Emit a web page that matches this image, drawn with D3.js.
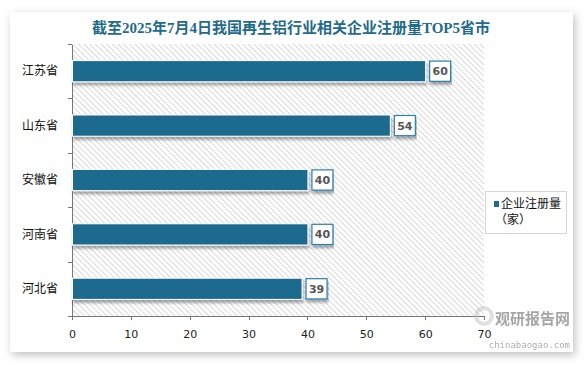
<!DOCTYPE html>
<meta charset="utf-8">
<style>
body { margin: 0; background: #fff; }
svg { display: block; font-family: "Noto Sans CJK SC", "DejaVu Sans", sans-serif; }
.axis text { font-size: 11px; fill: #222; font-family: "DejaVu Sans", "Noto Sans CJK SC", sans-serif; }
.axis path, .axis line { fill: none; stroke: #777; shape-rendering: crispEdges; }
.ylab { font-size: 12px; fill: #111; }
.title { font: bold 15px "Liberation Serif", "Noto Sans CJK SC", serif; fill: #1e6b8c; }
.val { font: bold 11px "DejaVu Sans", sans-serif; fill: #555; }
</style>
<body>
<div id="chart"></div>
<script src="https://cdn.jsdelivr.net/npm/d3@7"></script>
<script>
// provinces, top to bottom
var provinces = ["江苏省", "山东省", "安徽省", "河南省", "河北省"];
var counts = [60, 54, 40, 40, 39];
var xTicks = [0, 10, 20, 30, 40, 50, 60, 70];
var titleText = "截至2025年7月4日我国再生铝行业相关企业注册量TOP5省市";
var legendLines = ["企业注册量", "（家）"];

var W = 584, H = 365;
var margin = {top: 44, left: 72, right: 100, bottom: 49};
var width = 484 - margin.left,
    height = 316 - margin.top;
var barColor = "#1d6b8d";

var svg = d3.select("#chart").append("svg")
  .attr("width", W).attr("height", H);

var defs = svg.append("defs");
var sh = defs.append("filter").attr("id", "cardShadow")
  .attr("x", "-5%").attr("y", "-5%").attr("width", "110%").attr("height", "115%");
sh.append("feDropShadow").attr("dx", 2).attr("dy", 3).attr("stdDeviation", 4)
  .attr("flood-color", "#000").attr("flood-opacity", 0.25);
var bs = defs.append("filter").attr("id", "barShadow")
  .attr("x", "-5%").attr("y", "-20%").attr("width", "110%").attr("height", "160%");
bs.append("feDropShadow").attr("dx", 1).attr("dy", 3).attr("stdDeviation", 1.5)
  .attr("flood-color", "#000").attr("flood-opacity", 0.35);
var pat = defs.append("pattern").attr("id", "hatch")
  .attr("patternUnits", "userSpaceOnUse").attr("width", 4).attr("height", 4)
  .attr("patternTransform", "rotate(-45)");
pat.append("rect").attr("width", 4).attr("height", 4).attr("fill", "#fff");
pat.append("line").attr("x1", 0).attr("y1", 0).attr("x2", 0).attr("y2", 4)
  .attr("stroke", "#c9c9c9").attr("stroke-width", 1.4);

// card
svg.append("rect").attr("x", 10).attr("y", 12).attr("width", 563).attr("height", 340)
  .attr("fill", "#fff").attr("filter", "url(#cardShadow)");

svg.append("text").attr("class", "title")
  .attr("x", 291).attr("y", 33).attr("text-anchor", "middle")
  .text(titleText);

var g = svg.append("g").attr("transform", "translate(" + margin.left + "," + margin.top + ")");

var x = d3.scaleLinear().domain([0, 70]).range([0, width]);
var y = d3.scaleBand().domain(provinces).range([0, height])
  .paddingInner(0.61).paddingOuter(0.305);

g.append("rect").attr("width", width).attr("height", height).attr("fill", "url(#hatch)");

// x axis
g.append("g").attr("class", "axis")
  .attr("transform", "translate(0," + height + ")")
  .call(d3.axisBottom(x).tickValues(xTicks).tickSize(4).tickSizeOuter(0).tickPadding(10));

// y axis: ticks at category boundaries
var yb = d3.scaleLinear().domain([0, provinces.length]).range([0, height]);
g.append("g").attr("class", "axis")
  .call(d3.axisLeft(yb).tickValues(d3.range(0, provinces.length + 1)).tickSize(4).tickSizeOuter(0).tickFormat(""));

g.selectAll(".ylab").data(provinces).enter().append("text")
  .attr("class", "ylab")
  .attr("x", -14).attr("y", function(d) { return y(d) + y.bandwidth() / 2; })
  .attr("dy", "0.35em").attr("text-anchor", "end")
  .text(function(d) { return d; });

var rows = provinces.map(function(p, i) { return {name: p, value: counts[i]}; });

g.selectAll(".bar").data(rows).enter().append("rect")
  .attr("class", "bar")
  .attr("x", x(0) + 0.5)
  .attr("y", function(d) { return y(d.name); })
  .attr("width", function(d) { return x(d.value) - x(0); })
  .attr("height", y.bandwidth())
  .attr("fill", barColor)
  .attr("stroke", "#fff").attr("stroke-width", 1)
  .attr("filter", "url(#barShadow)");

var lab = g.selectAll(".lab").data(rows).enter().append("g")
  .attr("transform", function(d) { return "translate(" + (x(d.value) + 4) + "," + y(d.name) + ")"; });
lab.append("rect").attr("x", 0.5).attr("y", 0.5).attr("width", 21).attr("height", y.bandwidth() - 1)
  .attr("fill", "#fff").attr("stroke", "#2a80ad").attr("stroke-width", 1.2)
  .attr("filter", "url(#barShadow)");
lab.append("text").attr("class", "val")
  .attr("x", 11).attr("y", y.bandwidth() / 2).attr("dy", "0.36em").attr("text-anchor", "middle")
  .text(function(d) { return d.value; });

// legend
var lg = svg.append("g").attr("transform", "translate(485,191)");
lg.append("rect").attr("x", 0.5).attr("y", 0.5).attr("width", 81).attr("height", 42)
  .attr("fill", "#fff").attr("stroke", "#d6d6d6");
lg.append("rect").attr("x", 9).attr("y", 10).attr("width", 5).attr("height", 6).attr("fill", barColor);
lg.selectAll(".lt").data(legendLines).enter().append("text")
  .attr("x", function(d, i) { return i === 0 ? 16 : 10; })
  .attr("y", function(d, i) { return 17 + i * 16; })
  .attr("font-size", 12).attr("fill", "#111")
  .text(function(d) { return d; });

// watermark
svg.append("circle").attr("cx", 484).attr("cy", 316).attr("r", 8)
  .attr("fill", "none").attr("stroke", "#bbb").attr("stroke-width", 4).attr("opacity", 0.45);
svg.append("text").attr("x", 570).attr("y", 324).attr("text-anchor", "end")
  .attr("font-size", 15).attr("font-weight", "bold").attr("fill", "#888").attr("opacity", 0.75)
  .text("观研报告网");
svg.append("text").attr("x", 570).attr("y", 348).attr("text-anchor", "end")
  .attr("font-size", 9).attr("fill", "#999").attr("font-family", "DejaVu Sans Mono, monospace")
  .attr("opacity", 0.8).text("chinabaogao.com");
</script>
</body>
